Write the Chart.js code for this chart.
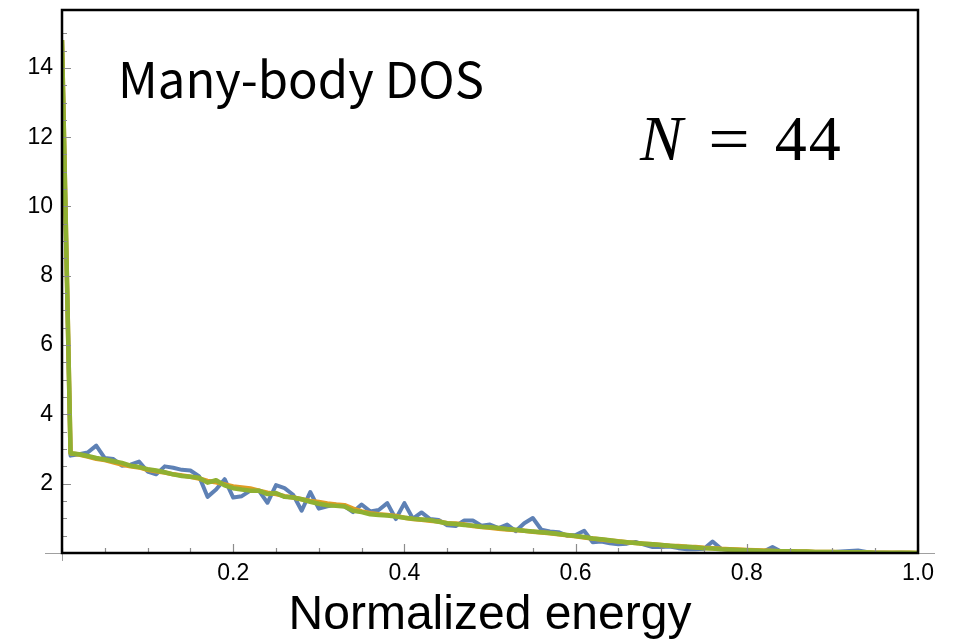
<!DOCTYPE html>
<html lang="ja">
<head>
<meta charset="utf-8">
<title>Many-body DOS</title>
<script src="https://cdn.jsdelivr.net/npm/chart.js@4/dist/chart.umd.min.js"></script>
<style>
  html, body { margin: 0; padding: 0; background: #fff; }
  .wrap { position: relative; width: 953px; height: 640px; overflow: hidden; }
  .label-dos {
    position: absolute; left: 118px; top: 52px;
    font: 49px "Noto Sans CJK JP", sans-serif; line-height: 1; white-space: nowrap; color: #000;
  }
  .label-n {
    position: absolute; left: 640px; top: 107px;
    font: 64px "Liberation Serif", serif; line-height: 1; white-space: nowrap; color: #000;
  }
  .label-n .eq { display: inline-block; transform: scaleX(1.15); margin: 0 28px 0 28px; }
  .label-n .num { letter-spacing: 2px; }
</style>
</head>
<body>
<div class="wrap">
  <canvas id="chart"></canvas>
  <div class="label-dos">Many-body DOS</div>
  <div class="label-n"><i>N</i><span class="eq">=</span><span class="num">44</span></div>
</div>
<script>
// 規格化エネルギー (0.01 刻みのビン)
const energies = [
  0.00, 0.01, 0.02, 0.03, 0.04, 0.05, 0.06, 0.07, 0.08, 0.09,
  0.10, 0.11, 0.12, 0.13, 0.14, 0.15, 0.16, 0.17, 0.18, 0.19,
  0.20, 0.21, 0.22, 0.23, 0.24, 0.25, 0.26, 0.27, 0.28, 0.29,
  0.30, 0.31, 0.32, 0.33, 0.34, 0.35, 0.36, 0.37, 0.38, 0.39,
  0.40, 0.41, 0.42, 0.43, 0.44, 0.45, 0.46, 0.47, 0.48, 0.49,
  0.50, 0.51, 0.52, 0.53, 0.54, 0.55, 0.56, 0.57, 0.58, 0.59,
  0.60, 0.61, 0.62, 0.63, 0.64, 0.65, 0.66, 0.67, 0.68, 0.69,
  0.70, 0.71, 0.72, 0.73, 0.74, 0.75, 0.76, 0.77, 0.78, 0.79,
  0.80, 0.81, 0.82, 0.83, 0.84, 0.85, 0.86, 0.87, 0.88, 0.89,
  0.90, 0.91, 0.92, 0.93, 0.94, 0.95, 0.96, 0.97, 0.98, 0.99,
  1.00
];

// 青: ばらつきの大きい系列
const dosBlue = [
  14.8, 2.81, 2.85, 2.90, 3.10, 2.74, 2.71, 2.52, 2.55, 2.64,
  2.35, 2.27, 2.50, 2.46, 2.40, 2.38, 2.22, 1.62, 1.83, 2.13,
  1.60, 1.64, 1.80, 1.80, 1.45, 1.96, 1.87, 1.68, 1.22, 1.76,
  1.28, 1.35, 1.39, 1.35, 1.18, 1.40, 1.20, 1.24, 1.44, 0.98,
  1.44, 0.99, 1.17, 0.98, 0.95, 0.80, 0.78, 0.94, 0.94, 0.79,
  0.82, 0.72, 0.82, 0.63, 0.86, 1.01, 0.67, 0.62, 0.60, 0.50,
  0.52, 0.64, 0.31, 0.33, 0.28, 0.25, 0.27, 0.32, 0.24, 0.17,
  0.17, 0.19, 0.14, 0.11, 0.11, 0.12, 0.33, 0.12, 0.08, 0.06,
  0.02, 0.03, 0.05, 0.17, 0.04, 0.02, 0.03, 0.01, 0.02, 0.03,
  0.02, 0.04, 0.06, 0.07, 0.03, 0.01, 0.01, 0.00, 0.01, 0.00,
  0.00
];

// オレンジ
const dosOrange = [
  14.8, 2.88, 2.84, 2.78, 2.72, 2.68, 2.62, 2.55, 2.50, 2.47,
  2.40, 2.36, 2.32, 2.27, 2.24, 2.20, 2.15, 2.08, 2.04, 1.98,
  1.92, 1.89, 1.86, 1.80, 1.74, 1.70, 1.64, 1.60, 1.55, 1.50,
  1.47, 1.43, 1.40, 1.38, 1.28, 1.20, 1.15, 1.12, 1.10, 1.07,
  1.02, 0.98, 0.96, 0.93, 0.91, 0.86, 0.85, 0.82, 0.78, 0.75,
  0.73, 0.70, 0.68, 0.66, 0.64, 0.61, 0.59, 0.57, 0.54, 0.51,
  0.48, 0.45, 0.42, 0.39, 0.36, 0.34, 0.31, 0.29, 0.27, 0.25,
  0.23, 0.21, 0.20, 0.18, 0.17, 0.15, 0.14, 0.12, 0.11, 0.10,
  0.09, 0.08, 0.07, 0.06, 0.05, 0.05, 0.04, 0.04, 0.03, 0.03,
  0.03, 0.02, 0.02, 0.02, 0.02, 0.01, 0.01, 0.01, 0.01, 0.01,
  0.00
];

// 緑 (最前面)
const dosGreen = [
  14.8, 2.88, 2.85, 2.80, 2.74, 2.70, 2.65, 2.60, 2.52, 2.48,
  2.42, 2.38, 2.33, 2.27, 2.22, 2.20, 2.17, 2.03, 2.10, 1.95,
  1.87, 1.83, 1.80, 1.80, 1.70, 1.73, 1.62, 1.60, 1.55, 1.48,
  1.42, 1.38, 1.36, 1.34, 1.22, 1.18, 1.12, 1.10, 1.08, 1.05,
  1.02, 0.99, 0.97, 0.95, 0.90, 0.86, 0.84, 0.81, 0.79, 0.76,
  0.74, 0.72, 0.69, 0.67, 0.64, 0.62, 0.60, 0.58, 0.55, 0.52,
  0.49, 0.46, 0.42, 0.40, 0.37, 0.33, 0.31, 0.29, 0.27, 0.25,
  0.23, 0.21, 0.19, 0.18, 0.16, 0.14, 0.13, 0.11, 0.10, 0.09,
  0.08, 0.07, 0.06, 0.06, 0.05, 0.05, 0.04, 0.04, 0.03, 0.03,
  0.03, 0.02, 0.02, 0.02, 0.02, 0.01, 0.01, 0.01, 0.01, 0.01,
  0.00
];

// ラベル付きの目盛り (それ以外は短い目盛りのみ)
const xTickLabels = [0.2, 0.4, 0.6, 0.8, 1.0];
const yTickLabels = [2, 4, 6, 8, 10, 12, 14];

const near = (v, list) => list.some(t => Math.abs(t - v) < 1e-6);
const onStep = (v, step) => Math.abs(v / step - Math.round(v / step)) < 1e-6;

// Mathematica 風の枠・内向き目盛り・灰色の軸線
const framePlugin = {
  id: 'frame',
  afterDatasetsDraw(chart) {
    const { ctx, chartArea: a, scales: { x, y } } = chart;
    const x0 = x.getPixelForValue(0);
    const y0 = y.getPixelForValue(0);
    ctx.save();

    ctx.strokeStyle = '#a0a0a0';
    ctx.lineWidth = 1;
    ctx.beginPath();
    ctx.moveTo(a.left - 17, y0 + 0.5);
    ctx.lineTo(a.right + 17, y0 + 0.5);
    ctx.moveTo(x0 + 0.5, a.top);
    ctx.lineTo(x0 + 0.5, a.bottom + 8);
    ctx.stroke();

    ctx.strokeStyle = '#8c8c8c';
    ctx.lineWidth = 1.2;
    ctx.beginPath();
    x.ticks.forEach(t => {
      if (!onStep(t.value, 0.05)) return;
      const px = Math.round(x.getPixelForValue(t.value)) + 0.5;
      const len = near(t.value, xTickLabels) ? 9 : 5;
      ctx.moveTo(px, a.bottom);
      ctx.lineTo(px, a.bottom - len);
    });
    y.ticks.forEach(t => {
      if (!onStep(t.value, 0.5)) return;
      const py = Math.round(y.getPixelForValue(t.value)) + 0.5;
      const len = near(t.value, yTickLabels) ? 9 : 5;
      ctx.moveTo(a.left, py);
      ctx.lineTo(a.left + len, py);
    });
    ctx.stroke();

    ctx.strokeStyle = '#000';
    ctx.lineWidth = 2.5;
    ctx.strokeRect(a.left, a.top, a.right - a.left, a.bottom - a.top);
    ctx.restore();
  }
};

const tickFont = { family: '"Liberation Sans", Arial, sans-serif', size: 23 };

new Chart(document.getElementById('chart'), {
  type: 'line',
  data: {
    labels: energies,
    datasets: [
      { label: 'blue', data: dosBlue, borderColor: '#5e81b5', borderWidth: 4, order: 3 },
      { label: 'orange', data: dosOrange, borderColor: '#e19c24', borderWidth: 4.5, order: 2 },
      { label: 'green', data: dosGreen, borderColor: '#8fb032', borderWidth: 4.5, order: 1 },
    ].map(ds => ({ ...ds, pointRadius: 0, tension: 0, fill: false, borderJoinStyle: 'round' }))
  },
  options: {
    responsive: true,
    maintainAspectRatio: false,
    animation: false,
    layout: { padding: { top: 10, right: 35, left: 0, bottom: 0 } },
    plugins: {
      legend: { display: false },
      tooltip: { enabled: false },
    },
    scales: {
      x: {
        type: 'linear',
        min: 0,
        max: 1,
        afterFit: s => { s.height = 87; s.paddingLeft = 0; s.paddingRight = 0; },
        grid: { display: false, drawTicks: false },
        border: { display: false },
        ticks: {
          stepSize: 0.05,
          autoSkip: false,
          maxRotation: 0,
          padding: 7,
          color: '#000',
          font: tickFont,
          callback: v => near(v, xTickLabels) ? v.toFixed(1) : '',
        },
        title: {
          display: true,
          text: 'Normalized energy',
          color: '#000',
          padding: 0,
          font: { family: '"Liberation Sans", Arial, sans-serif', size: 48, lineHeight: 1 },
        },
      },
      y: {
        min: 0,
        max: 15.67,
        afterFit: s => { s.width = 62; s.paddingTop = 0; s.paddingBottom = 0; },
        grid: { display: false, drawTicks: false },
        border: { display: false },
        ticks: {
          stepSize: 0.5,
          autoSkip: false,
          maxTicksLimit: 100,
          padding: 9,
          color: '#000',
          font: tickFont,
          callback: v => near(v, yTickLabels) ? String(v) : '',
        },
      },
    },
  },
  plugins: [framePlugin],
});
</script>
</body>
</html>
